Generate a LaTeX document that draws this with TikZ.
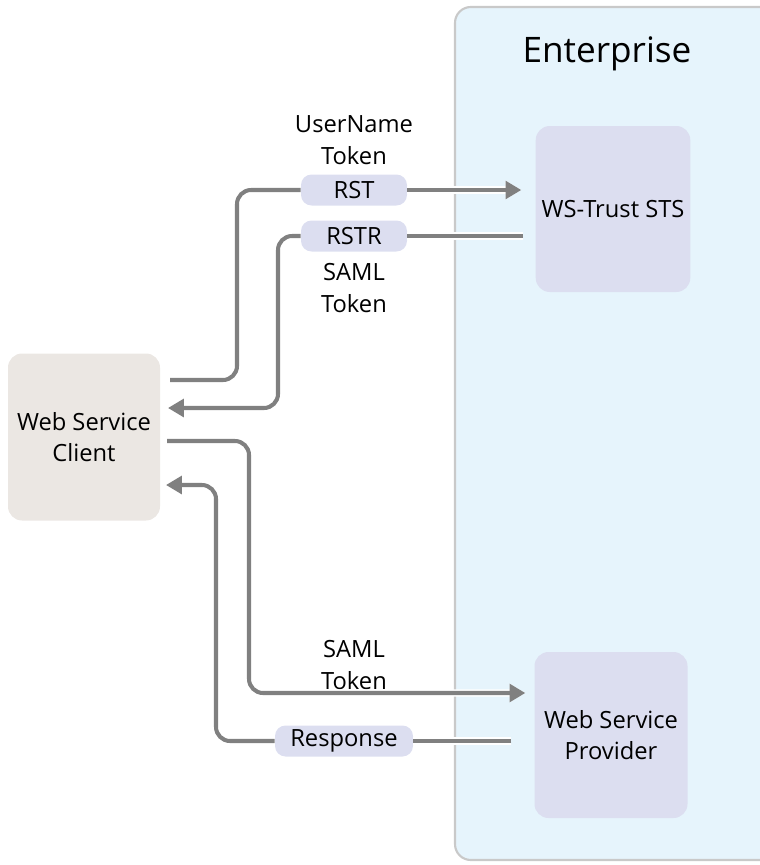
\documentclass[tikz,border=0pt]{standalone}
\usepackage{fontspec}
\setmainfont{Open Sans}
\usepackage{tikz}
\usetikzlibrary{arrows.meta}
\usepackage{xcolor}
\definecolor{entfill}{HTML}{E6F4FC}
\definecolor{entline}{HTML}{C9C9C9}
\definecolor{boxfill}{HTML}{DCDEF0}
\definecolor{clientfill}{HTML}{EBE7E3}
\definecolor{flowgray}{HTML}{808080}

\begin{document}
\begin{tikzpicture}[x=0.02cm,y=-0.02cm]
  \tikzset{servicebox/.style={rounded corners=8pt,fill=boxfill,minimum width=153*0.02cm,minimum height=166*0.02cm,align=center,font=\fontsize{13.5}{18}\selectfont,text=black}}
  \tikzset{clientbox/.style={servicebox,fill=clientfill,minimum width=152*0.02cm,minimum height=167*0.02cm}}
  \tikzset{msgpill/.style={rounded corners=6pt,fill=boxfill,minimum width=106*0.02cm,minimum height=31*0.02cm,inner sep=1pt,font=\fontsize{13.5}{16}\selectfont}}
  \tikzset{tokenlabel/.style={align=center,font=\fontsize{13.5}{18}\selectfont,inner sep=1pt}}
  \tikzset{flow/.style={draw=flowgray,line width=2.3pt,rounded corners=8pt,preaction={draw=white,line width=4.2pt}}}
  \tikzset{flowtip/.style={-{Triangle[width=10pt,length=9pt]}}}
  \useasboundingbox (0,0) rectangle (760,865);
  \clip (0,0) rectangle (760,865);
  \draw[fill=entfill,draw=entline,line width=1.2pt,rounded corners=9pt] (455,7) rectangle (790,860);
  \node[font=\fontsize{20}{24}\selectfont] (ent) at (607,54) {Enterprise};
  \node[servicebox] (sts) at (613,209) {WS-Trust STS};
  \node[servicebox] (wsp) at (611,735) {Web Service\\Provider};
  \node[clientbox] (wsc) at (84,437) {Web Service\\Client};
  \node[msgpill] (rst) at (354,190) {RST};
  \node[msgpill] (rstr) at (354,236) {RSTR};
  \node[msgpill,minimum width=138*0.02cm] (resp) at (344,741) {Response};
  \node[tokenlabel] (untok) at (354,140) {UserName\\Token};
  \node[tokenlabel] (samltok) at (354,288) {SAML\\Token};
  \node[tokenlabel] (samltok2) at (354,665) {SAML\\Token};
  \coordinate (rstout) at (170,380);
  \coordinate (rstrin) at (168,408);
  \coordinate (samlout) at (167,441);
  \coordinate (respin) at (166,485);
  % request to the STS
  \draw[flow] (rstout) -- (237,380) |- (rst.west);
  \draw[flow,flowtip,shorten >=8pt] (rst.east) -- (rst.east -| sts.west);
  % reply from the STS
  \draw[flow,shorten <=7pt] (rstr.east -| sts.west) -- (rstr.east);
  \draw[flow,flowtip] (rstr.west) -- (278,236) |- (rstrin);
  % call to the provider
  \draw[flow,flowtip,shorten >=5pt] (samlout) -- (249,441) |- (wsp.west |- 0,693);
  % answer from the provider
  \draw[flow,shorten <=13pt] (resp.east -| wsp.west) -- (resp.east);
  \draw[flow,flowtip] (resp.west) -- (216,741) |- (respin);
\end{tikzpicture}
\end{document}
